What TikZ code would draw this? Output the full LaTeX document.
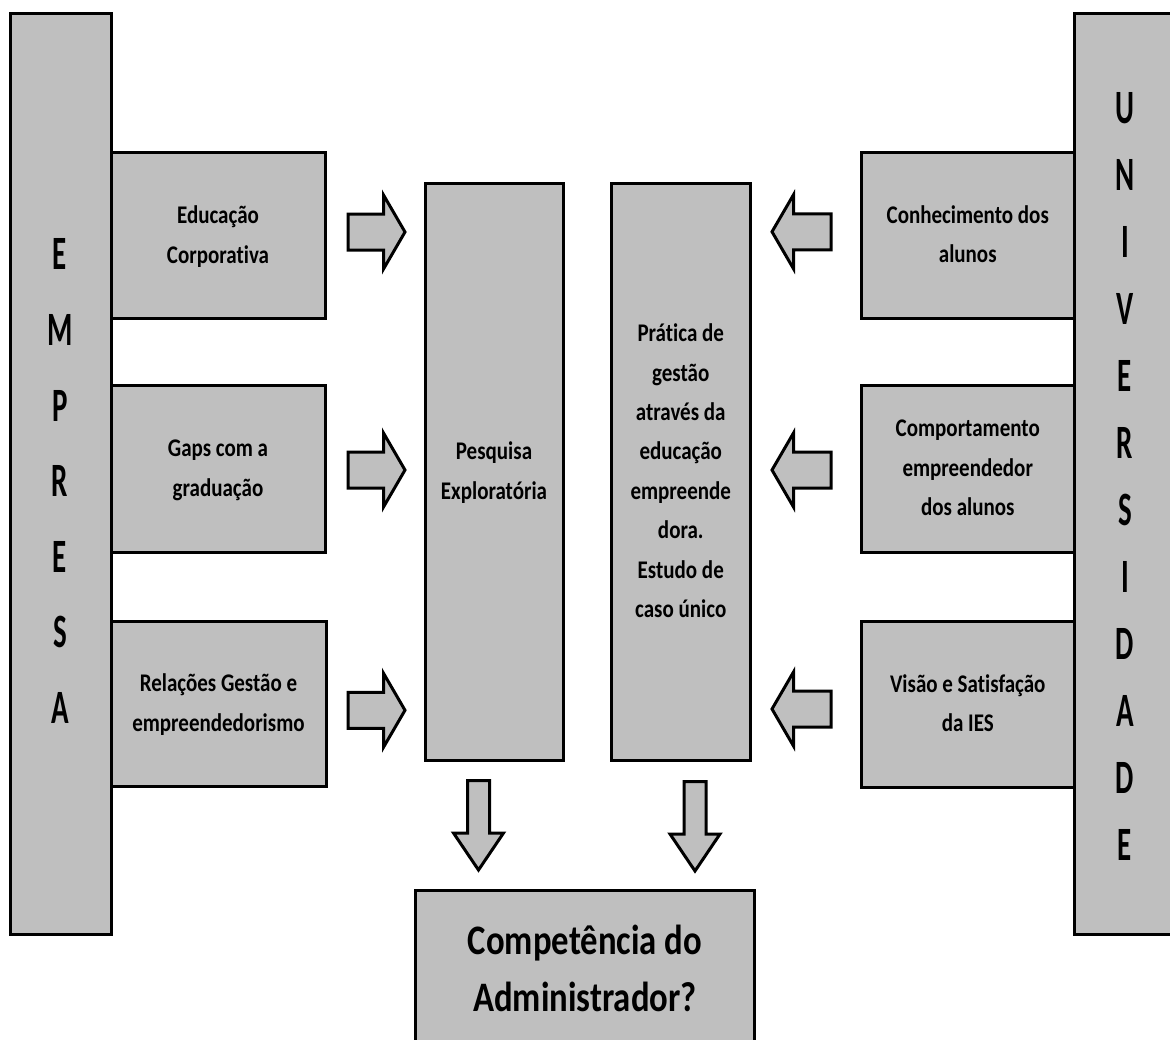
\documentclass[tikz,border=0pt]{standalone}
\usepackage{fontspec}
\setmainfont{Carlito}[Ligatures={NoCommon}]
\usepackage{graphicx}
\usetikzlibrary{calc}
\definecolor{boxgray}{RGB}{191,191,191}
% vertically stretched, centred block of lines
\newcommand{\stretched}[2]{\scalebox{1}[#1]{\begin{tabular}{@{}c@{}}#2\end{tabular}}}

\begin{document}
\begin{tikzpicture}[x=1pt,y=-1pt,
  panel/.style={draw=black, fill=boxgray, line width=3pt, rectangle,
                inner sep=0pt, outer sep=0pt, anchor=north west,
                font=\bfseries\fontsize{21}{32.6}\selectfont},
  bigtext/.style={inner sep=0pt, font=\bfseries\fontsize{34.7}{46.9}\selectfont},
  lettersL/.style={inner sep=0pt, font=\bfseries\fontsize{29}{45.8}\selectfont},
  lettersR/.style={inner sep=0pt, font=\bfseries\fontsize{29}{40.6}\selectfont},
  blockarrow/.style={draw=black, fill=boxgray, line width=3pt, line join=miter}]

\useasboundingbox (0,0) rectangle (1170,1039);
\clip (0,0) rectangle (1170,1039);
\fill[white] (0,0) rectangle (1170,1039);

% side columns
\node[panel, minimum width=100.5pt, minimum height=921pt] (emp) at (10.5,13) {};
\node[panel, minimum width=115.5pt, minimum height=921pt] (univ) at (1074.5,13) {};
\node[lettersL] (empt) at (60,481.5) {\stretched{1.65}{E\\M\\P\\R\\E\\S\\A}};
\node[lettersR] (univt) at (1125,478.5) {\stretched{1.65}{U\\N\\I\\V\\E\\R\\S\\I\\D\\A\\D\\E}};

% company side
\node[panel, minimum width=214pt, minimum height=166pt] (edu) at (111,152.5)
  {\stretched{1.21}{Educação\\Corporativa}};
\node[panel, minimum width=214pt, minimum height=167pt] (gaps) at (111,385)
  {\stretched{1.21}{Gaps com a\\graduação}};
\node[panel, minimum width=215pt, minimum height=165.5pt] (rel) at (111,621)
  {\stretched{1.21}{Relações Gestão e\\empreendedorismo}};

% centre columns
\node[panel, minimum width=138pt, minimum height=576.5pt] (pesq) at (425,183.5)
  {\stretched{1.21}{Pesquisa\\Exploratória}};
\node[panel, minimum width=138.5pt, minimum height=576.5pt] (prat) at (611.5,183.5)
  {\stretched{1.21}{Prática de\\gestão\\através da\\educação\\empreende\\dora.\\Estudo de\\caso único}};

% university side
\node[panel, minimum width=213.5pt, minimum height=166.5pt] (con) at (861,152)
  {\stretched{1.21}{Conhecimento dos\\alunos}};
\node[panel, minimum width=213.5pt, minimum height=167pt] (comp) at (861,385)
  {\stretched{1.21}{Comportamento\\empreendedor\\dos alunos}};
\node[panel, minimum width=213.5pt, minimum height=166pt] (vis) at (861,621)
  {\stretched{1.21}{Visão e Satisfação\\da IES}};

% result
\node[panel, minimum width=339.5pt, minimum height=170pt] (adm) at (415,890.5) {};
\node[bigtext] (admt) at (585,971.5) {\stretched{1.21}{Competência do\\Administrador?}};

% block arrows towards the centre columns
\foreach \src/\dy in {edu/-3.5, gaps/1.5, rel/6.5}
  \draw[blockarrow, shift={($(\src.east -| pesq.west)+(-20,\dy)$)}]
    (0,0) -- (-21.5,-37) -- (-21.5,-18) -- (-57,-18) -- (-57,18)
    -- (-21.5,18) -- (-21.5,37) -- cycle;
\foreach \src/\dy in {con/-3.5, comp/1.5, vis/5}
  \draw[blockarrow, shift={($(\src.west -| prat.east)+(22,\dy)$)}, xscale=-1]
    (0,0) -- (-21.5,-37) -- (-21.5,-18) -- (-59,-18) -- (-59,18)
    -- (-21.5,18) -- (-21.5,37) -- cycle;

% block arrows down to the result
\coordinate (dl) at (478.5,870);
\coordinate (dr) at (695,871);
\foreach \tip in {dl, dr}
  \draw[blockarrow, shift={(\tip)}]
    (0,0) -- (-25,-37) -- (-11,-37) -- (-11,-89.5) -- (11,-89.5)
    -- (11,-37) -- (25,-37) -- cycle;

\end{tikzpicture}
\end{document}
